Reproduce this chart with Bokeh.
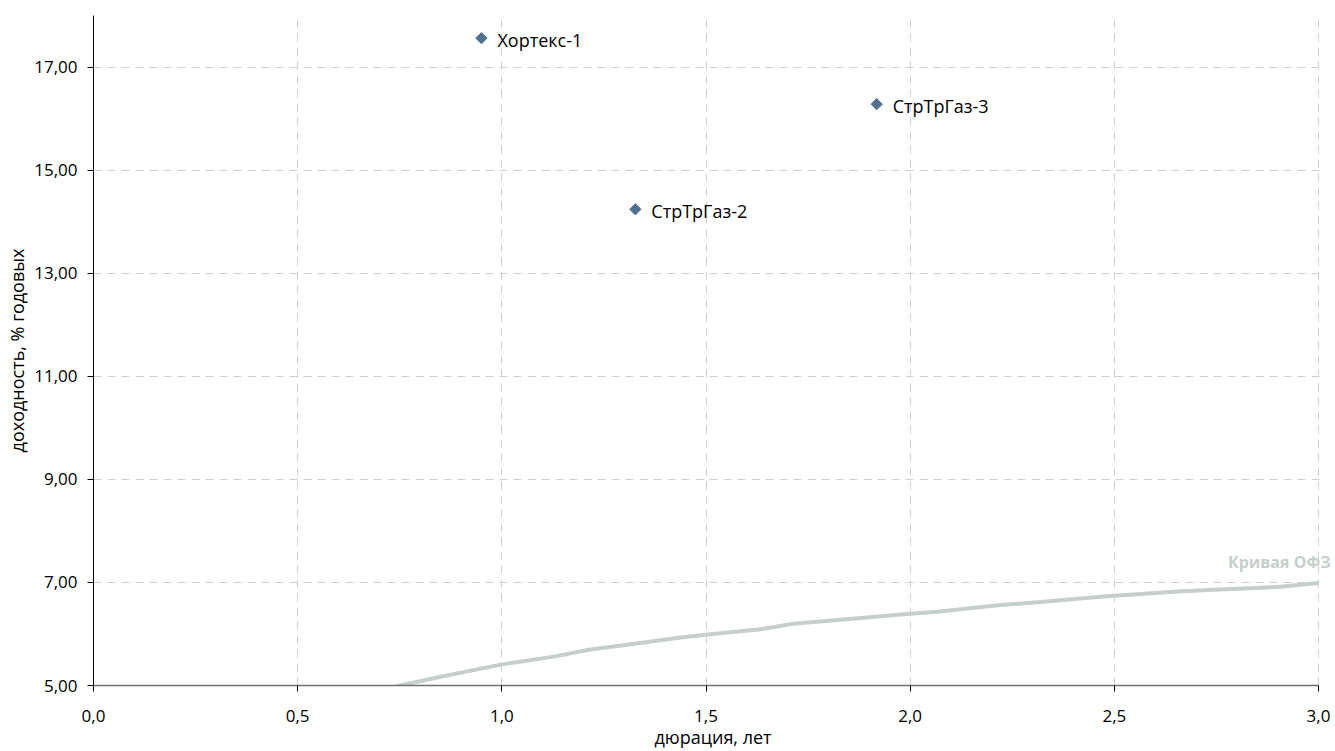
import numpy as np
from bokeh.plotting import figure
from bokeh.models import FixedTicker, CustomJSTickFormatter, ColumnDataSource, Range1d, Label, BoxAnnotation
from bokeh.core.properties import value
from bokeh.embed import file_html
from bokeh.resources import INLINE

# OFZ curve (duration, yield)
ofz_dur = [0.74, 0.85, 1.0, 1.127, 1.217, 1.298, 1.438, 1.504, 1.634, 1.714, 2.0, 2.067, 2.221, 2.319, 2.466, 2.50, 2.645, 2.743, 2.90, 3.0]
ofz_yld = [4.98, 5.17, 5.41, 5.56, 5.70, 5.78, 5.93, 5.99, 6.09, 6.20, 6.39, 6.43, 6.56, 6.62, 6.72, 6.74, 6.82, 6.86, 6.91, 6.99]
ofz_label = "Кривая ОФЗ"

# bonds
bond_names = ["Хортекс-1", "СтрТрГаз-2", "СтрТрГаз-3"]
bond_dur = [0.950, 1.327, 1.918]
bond_yld = [17.56, 14.24, 16.28]

x_ticks = [0.0, 0.5, 1.0, 1.5, 2.0, 2.5, 3.0]
y_ticks = [5, 7, 9, 11, 13, 15, 17]
x_min, x_max = 0.0, 3.0
y_min, y_max = 5, 18

FONT = "Open Sans"

# frame: x from 93 to 1332 px, data 0..3 occupies 93..1318 px (room for the curve label)
pad = x_max * 14 / 1225
p = figure(width=1335, height=751, output_backend="svg", toolbar_location=None,
           x_range=Range1d(x_min, x_max + pad), y_range=Range1d(y_min, y_max),
           min_border_left=93, min_border_right=3, min_border_top=15, min_border_bottom=64)
p.outline_line_color = None
p.background_fill_color = "white"
p.border_fill_color = "white"

# grid
p.xgrid.ticker = FixedTicker(ticks=x_ticks)
p.ygrid.ticker = FixedTicker(ticks=y_ticks)
for g in (p.xgrid, p.ygrid):
    g.grid_line_color = "#cfcfcf"
    g.grid_line_dash = "8 6"
    g.grid_line_width = 1

# hide grid beyond the data range on the right
p.add_layout(BoxAnnotation(left=x_max + 0.002, fill_color="white", fill_alpha=1.0,
                           line_color=None, level="glyph"))

# axes
p.xaxis.ticker = FixedTicker(ticks=x_ticks)
p.yaxis.ticker = FixedTicker(ticks=y_ticks)
p.xaxis.bounds = (x_min, x_max)
p.xaxis.formatter = CustomJSTickFormatter(code="return tick.toFixed(1).replace('.', ',');")
p.yaxis.formatter = CustomJSTickFormatter(code="return tick.toFixed(2).replace('.', ',');")
p.xaxis.axis_label = "дюрация, лет"
p.yaxis.axis_label = "доходность, % годовых"
for ax in (p.xaxis, p.yaxis):
    ax.major_label_text_font = FONT
    ax.major_label_text_font_size = "17px"
    ax.major_label_text_color = "#000000"
    ax.axis_label_text_font = FONT
    ax.axis_label_text_font_size = "18px"
    ax.axis_label_text_font_style = "normal"
    ax.axis_label_text_color = "#000000"
    ax.minor_tick_line_color = None
    ax.major_tick_in = 0
    ax.major_tick_line_color = "#000000"
p.xaxis.axis_line_color = "#707070"
p.xaxis.axis_line_width = 1.5
p.yaxis.axis_line_color = "#000000"
p.xaxis.major_tick_out = 6
p.yaxis.major_tick_out = 6
p.xaxis.major_label_standoff = 18
p.xaxis.axis_label_standoff = 0
p.yaxis.major_label_standoff = 10
p.yaxis.axis_label_standoff = 2

# OFZ curve
p.line(ofz_dur, ofz_yld, line_color="#c5cfcb", line_width=4)
p.add_layout(Label(x=ofz_dur[-1], y=ofz_yld[-1], text=ofz_label, text_align="right",
                   text_baseline="middle", x_offset=12, y_offset=21, text_font=FONT,
                   text_font_size="16px", text_font_style="bold", text_color="#c5cfcb"))

# bonds
src = ColumnDataSource(dict(x=bond_dur, y=bond_yld, name=bond_names))
p.scatter("x", "y", source=src, marker="square", angle=np.pi / 4, size=8,
          fill_color="#51718f", line_color="#51718f")
p.text("x", "y", text="name", source=src, x_offset=16, y_offset=2, text_baseline="middle",
       text_align="left", text_font=value(FONT), text_font_size="18px", text_color="#000000")

open("out.html", "w").write(file_html(p, INLINE))
